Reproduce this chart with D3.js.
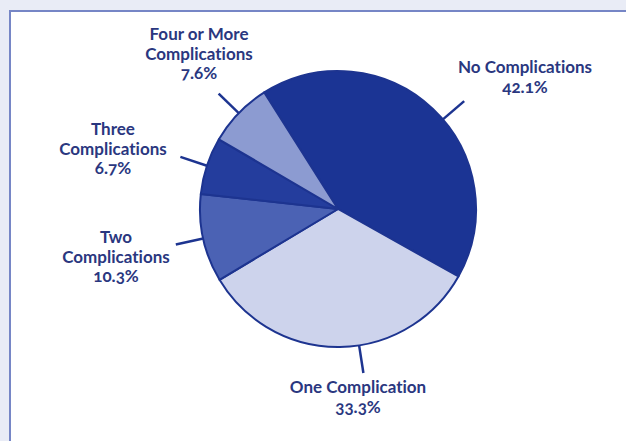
<!DOCTYPE html>
<html>
<head>
<meta charset="utf-8">
<script src="https://cdn.jsdelivr.net/npm/d3@7"></script>
<style>
  html, body { margin: 0; padding: 0; background: #e9ecf6; }
  svg { display: block; }
  .lbl { font-family: Lato, "Open Sans", sans-serif; font-weight: 700; font-size: 17px; fill: #2a377f;
         font-variant-ligatures: none; font-feature-settings: "liga" 0, "clig" 0, "onum" 1; }
</style>
</head>
<body>
<svg id="chart" width="626" height="441"></svg>
<script>
// ---- data ----
const categories = ["No Complications", "One Complication", "Two Complications", "Three Complications", "Four or More Complications"];
const values = [42.1, 33.3, 10.3, 6.7, 7.6];
const labelLines = [
  ["No Complications"],
  ["One Complication"],
  ["Two", "Complications"],
  ["Three", "Complications"],
  ["Four or More", "Complications"]
];

// ---- layout / style ----
const W = 626, H = 441;
const cx = 338, cy = 209, R = 138;
const colors = ["#1b3494", "#cdd3ec", "#4b62b4", "#243d9d", "#8c9bd1"];
const strokeColor = "#1d3490";
const startDeg = -32.3;
const leaderOffsetDeg = [6, -8, 0, 0, 0];
const leaderLen = 28;
// label anchor: [centre x, first baseline y]
const labelAnchor = [[525, 73], [358, 393], [116, 243], [113, 135], [199, 40]];
const lineGap = 19.5;

const svg = d3.select("#chart");

// panel
svg.append("rect").attr("x", 0).attr("y", 0).attr("width", W).attr("height", H).attr("fill", "#e9ecf6");
svg.append("rect").attr("x", 10).attr("y", 11).attr("width", W + 20).attr("height", H + 20)
  .attr("fill", "#ffffff").attr("stroke", "#7686c6").attr("stroke-width", 2);

const toRad = d => d * Math.PI / 180;
const pie = d3.pie().sort(null).value(d => d.v)
  .startAngle(toRad(startDeg)).endAngle(toRad(startDeg) + 2 * Math.PI);
const data = categories.map((c, i) => ({ c, v: values[i], i }));
const arcs = pie(data);
const arc = d3.arc().innerRadius(0).outerRadius(R);

const g = svg.append("g").attr("transform", `translate(${cx},${cy})`);
g.selectAll("path.slice").data(arcs).join("path")
  .attr("class", "slice")
  .attr("d", arc)
  .attr("fill", d => colors[d.data.i])
  .attr("stroke", strokeColor)
  .attr("stroke-width", 2)
  .attr("stroke-linejoin", "round");

// leader lines
g.selectAll("line.leader").data(arcs).join("line")
  .attr("class", "leader")
  .each(function (d) {
    const a = (d.startAngle + d.endAngle) / 2 + toRad(leaderOffsetDeg[d.data.i]);
    const s = Math.sin(a), c = -Math.cos(a);
    d3.select(this)
      .attr("x1", s * R).attr("y1", c * R)
      .attr("x2", s * (R + leaderLen)).attr("y2", c * (R + leaderLen));
  })
  .attr("stroke", strokeColor)
  .attr("stroke-width", 2.5);

// labels
const lg = svg.append("g");
arcs.forEach(d => {
  const i = d.data.i;
  const lines = labelLines[i].concat([values[i].toFixed(1) + "%"]);
  const t = lg.append("text").attr("class", "lbl").attr("text-anchor", "middle")
    .attr("x", labelAnchor[i][0]).attr("y", labelAnchor[i][1]);
  lines.forEach((ln, k) => {
    t.append("tspan").attr("x", labelAnchor[i][0]).attr("dy", k === 0 ? 0 : lineGap).text(ln);
  });
});
</script>
</body>
</html>
